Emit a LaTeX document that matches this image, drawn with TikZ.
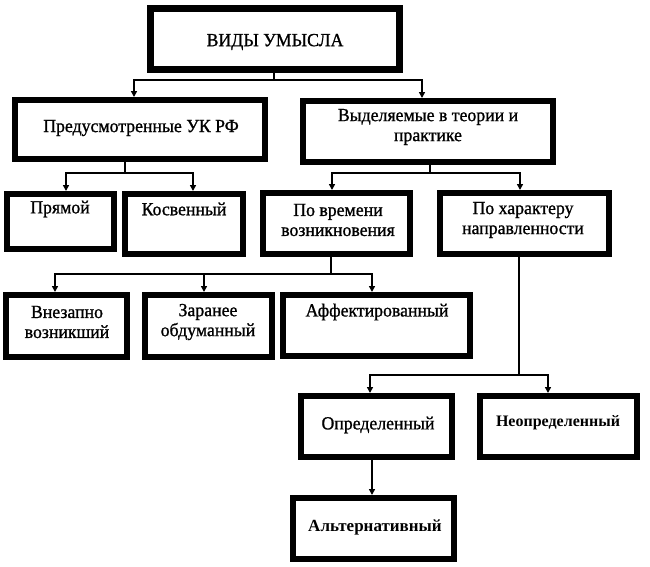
\documentclass[tikz,border=0pt]{standalone}
\usepackage{fontspec}
\setmainfont{Liberation Serif}
\newfontfamily\heavyfont[FakeBold=1,FakeStretch=0.96]{Liberation Serif}
\usetikzlibrary{arrows.meta}
\tikzset{
  box/.style={draw=black, line width=6pt, fill=white, rectangle, inner sep=0pt},
  topbox/.style={box, line width=7pt},
  txt/.style={font=\heavyfont\fontsize{18.5}{20}\selectfont, align=center, inner sep=0pt},
  btxt/.style={font=\fontsize{16}{20}\selectfont\bfseries, align=center, inner sep=0pt},
  conn/.style={line width=1.6pt},
  arr/.style={line width=1.6pt, -{Triangle[length=6pt,width=6pt]}}
}
\begin{document}
\begin{tikzpicture}[x=1pt,y=-1pt]
\useasboundingbox (0,0) rectangle (650,566);
% boxes
\node[topbox, minimum width=249pt, minimum height=61pt] (top) at (275,39) {};
\node[box, minimum width=250pt, minimum height=59pt] (pred) at (140,129.5) {};
\node[box, minimum width=250pt, minimum height=61pt] (vyd) at (428,131.5) {};
\node[box, minimum width=107pt, minimum height=55pt] (pryam) at (60.5,221.5) {};
\node[box, minimum width=118pt, minimum height=60pt] (kosv) at (184,224) {};
\node[box, minimum width=147pt, minimum height=61pt] (pvrem) at (336.5,223.5) {};
\node[box, minimum width=169pt, minimum height=61pt] (pchar) at (524.5,223.5) {};
\node[box, minimum width=121pt, minimum height=62pt] (vnez) at (66.5,326) {};
\node[box, minimum width=127pt, minimum height=62pt] (zaran) at (208.5,326) {};
\node[box, minimum width=187pt, minimum height=61pt] (affekt) at (376.5,325.5) {};
\node[box, minimum width=151pt, minimum height=61pt] (opred) at (376.5,426.5) {};
\node[box, minimum width=157pt, minimum height=61pt] (neopr) at (558.5,426.5) {};
\node[box, minimum width=161pt, minimum height=61pt] (alt) at (373.5,528.5) {};
% texts
\node[txt] (ttop) at (275,42) {ВИДЫ УМЫСЛА};
\node[txt] (tpred) at (141,128) {Предусмотренные УК РФ};
\node[txt] (tvyd) at (428,127) {Выделяемые в теории и\\практике};
\node[txt] (tpryam) at (60,209) {Прямой};
\node[txt] (tkosv) at (184,209) {Косвенный};
\node[txt] (tpvrem) at (338,220) {По времени\\возникновения};
\node[txt] (tpchar) at (523,220) {По характеру\\направленности};
\node[txt] (tvnez) at (67,322) {Внезапно\\возникший};
\node[txt] (tzaran) at (208,322) {Заранее\\обдуманный};
\node[txt] (taffekt) at (377,312) {Аффектированный};
\node[txt] (topred) at (378,425) {Определенный};
\node[btxt] (tneopr) at (558,423) {Неопределенный};
\node[btxt, font=\fontsize{17}{20}\selectfont\bfseries] (talt) at (375,527) {Альтернативный};
% connectors
\draw[conn] ([xshift=-1pt]top.south) -- ++(0,7) coordinate (j0);
\draw[arr] (j0) -| ([xshift=-6pt]pred.north);
\draw[arr] (j0) -| ([xshift=-6pt]vyd.north);
\draw[conn] ([xshift=-15pt]pred.south) -- ++(0,11) coordinate (j1);
\draw[arr] (j1) -| ([xshift=5.5pt]pryam.north);
\draw[arr] (j1) -| ([xshift=9pt]kosv.north);
\draw[conn] ([xshift=2pt]vyd.south) -- ++(0,8) coordinate (j2);
\draw[arr] (j2) -| ([xshift=-4.5pt]pvrem.north);
\draw[arr] (j2) -| ([xshift=-4.5pt]pchar.north);
\draw[conn] ([xshift=-5.5pt]pvrem.south) -- ++(0,17) coordinate (j3);
\draw[arr] (j3) -| ([xshift=-11.5pt]vnez.north);
\draw[arr] (j3) -| ([xshift=-4.5pt]zaran.north);
\draw[arr] (j3) -| ([xshift=-4.5pt]affekt.north);
\draw[conn] ([xshift=-5.5pt]pchar.south) -- ++(0,118) coordinate (j4);
\draw[arr] (j4) -| ([xshift=-6.5pt]opred.north);
\draw[arr] (j4) -| ([xshift=-10.5pt]neopr.north);
\draw[arr] ([xshift=-4.5pt]opred.south) -- ([xshift=-1.5pt]alt.north);
\end{tikzpicture}
\end{document}
